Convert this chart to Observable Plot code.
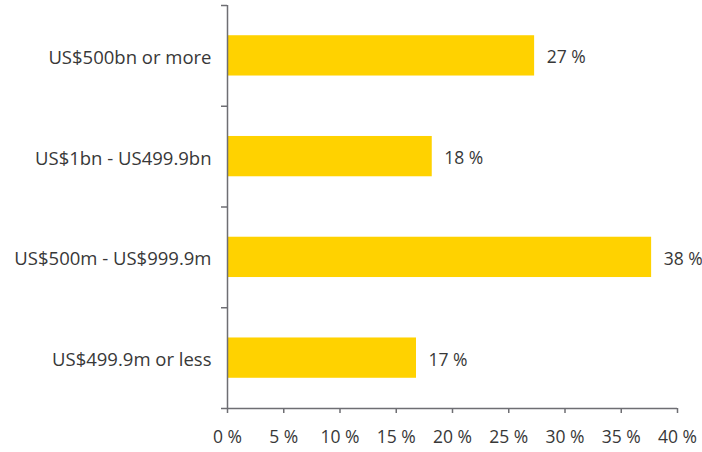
<!DOCTYPE html>
<html>
<head>
<meta charset="utf-8">
<script src="https://cdn.jsdelivr.net/npm/d3@7"></script>
<script src="https://cdn.jsdelivr.net/npm/@observablehq/plot@0.6"></script>
<style>
  html, body { margin: 0; padding: 0; background: #fff; }
  #chart svg { display: block; }
</style>
</head>
<body>
<div id="chart"></div>
<script>
const categories = ["US$500bn or more", "US$1bn - US499.9bn", "US$500m - US$999.9m", "US$499.9m or less"];
const values = [27.3, 18.2, 37.7, 16.8];
const valueLabels = ["27 %", "18 %", "38 %", "17 %"];
const xTicks = [0, 5, 10, 15, 20, 25, 30, 35, 40];

const data = categories.map((c, i) => ({category: c, index: i, value: values[i], label: valueLabels[i]}));
const boundaries = d3.range(-0.5, categories.length, 1);

const axisColor = "#6e6e73";
const textColor = "#383838";
const fs = 17.5;
const catFs = 18.5;

const chart = Plot.plot({
  width: 702,
  height: 452,
  marginLeft: 227,
  marginRight: 25,
  marginTop: 5,
  marginBottom: 44,
  style: {fontFamily: "'Open Sans', sans-serif", fontSize: fs + "px", color: textColor, background: "#fff"},
  x: {domain: [0, 40]},
  y: {domain: [-0.5, categories.length - 0.5], reverse: true},
  marks: [
    Plot.rectX(data, {x1: 0, x2: "value", y1: d => d.index - 0.2, y2: d => d.index + 0.2, fill: "#FFD200"}),
    Plot.text(data, {x: "value", y: "index", text: "label", textAnchor: "start", dx: 12, dy: 2, fill: textColor, fontSize: fs}),
    Plot.axisY(boundaries, {ticks: boundaries, tickSize: 6, tickFormat: () => "", stroke: axisColor, strokeWidth: 1.5, label: null}),
    Plot.axisY({ticks: d3.range(categories.length), tickSize: 0, tickPadding: 16, dy: 2, tickFormat: i => categories[i], fill: textColor, fontSize: catFs, label: null}),
    Plot.axisX({ticks: xTicks, tickSize: 5, tickPadding: 17, tickFormat: d => d + " %", stroke: axisColor, strokeWidth: 1.5, fill: textColor, fontSize: fs, label: null}),
    Plot.ruleX([0], {stroke: axisColor, strokeWidth: 1.5}),
    Plot.ruleY([categories.length - 0.5], {stroke: axisColor, strokeWidth: 1.5})
  ]
});
document.getElementById("chart").appendChild(chart);
</script>
</body>
</html>
